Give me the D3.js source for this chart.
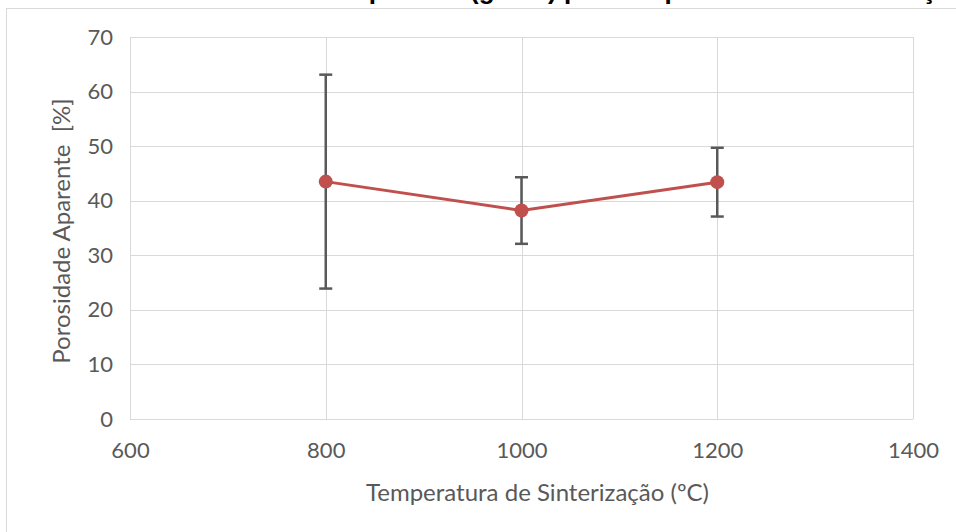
<!DOCTYPE html>
<html>
<head>
<meta charset="utf-8">
<script src="https://cdn.jsdelivr.net/npm/d3@7"></script>
<style>
  body { margin: 0; background: #fff; }
  svg { display: block; }
  text { font-family: Lato, "Open Sans", sans-serif; fill: #595959; }
</style>
</head>
<body>
<svg id="chart" width="956" height="532"></svg>
<script>
// chart data
const temperatures = [800, 1000, 1200];
const porosity = [43.5, 38.2, 43.4];
const porosityErr = [19.6, 6.1, 6.3];
const xTicks = [600, 800, 1000, 1200, 1400];
const yTicks = [0, 10, 20, 30, 40, 50, 60, 70];

const chartTitle = "Gráfico de Densidade Aparente (g/cm³) por Temperatura de Sinterização";
const xTitle = "Temperatura de Sinterização (ºC)";
const yTitle = "Porosidade Aparente  [%]";

const svg = d3.select("#chart");

// plot box
const plot = { left: 130, right: 913, top: 37, bottom: 419 };

const x = d3.scaleLinear().domain([600, 1400]).range([plot.left, plot.right]);
const y = d3.scaleLinear().domain([0, 70]).range([plot.bottom, plot.top]);

// outer chart frame
svg.append("rect")
    .attr("x", 6.5).attr("y", 8.5)
    .attr("width", 960).attr("height", 540)
    .attr("fill", "none")
    .attr("stroke", "#d9d9d9");

// title, mostly cropped off the top edge
const title = svg.append("text")
    .attr("y", -1)
    .style("font-family", "'Liberation Sans', Arial, sans-serif")
    .style("font-weight", "bold")
    .style("font-size", "26px")
    .style("fill", "#000")
    .text(chartTitle);
// put the "(" where it sits in the picture
const idx = chartTitle.indexOf("(");
const off = title.node().getSubStringLength(0, idx);
title.attr("x", 470 - off);

// gridlines
svg.append("g")
    .selectAll("line")
    .data(yTicks)
    .join("line")
    .attr("x1", plot.left).attr("x2", plot.right)
    .attr("y1", d => Math.round(y(d)) + 0.5)
    .attr("y2", d => Math.round(y(d)) + 0.5)
    .attr("stroke", "#d9d9d9");

svg.append("g")
    .selectAll("line")
    .data(xTicks)
    .join("line")
    .attr("x1", d => Math.round(x(d)) + 0.5)
    .attr("x2", d => Math.round(x(d)) + 0.5)
    .attr("y1", plot.top).attr("y2", plot.bottom)
    .attr("stroke", "#d9d9d9");

// axes (labels only, Excel style)
const yAxis = svg.append("g")
    .attr("transform", `translate(${plot.left},0)`)
    .call(d3.axisLeft(y).tickValues(yTicks).tickSize(0).tickPadding(17));
const xAxis = svg.append("g")
    .attr("transform", `translate(0,${plot.bottom})`)
    .call(d3.axisBottom(x).tickValues(xTicks).tickSize(0).tickPadding(23).tickFormat(d3.format("d")));
[yAxis, xAxis].forEach(a => {
    a.select(".domain").remove();
    a.selectAll("text")
        .style("font-size", "22px")
        .style("font-family", "Lato, sans-serif")
        .attr("fill", "#595959");
});

// axis titles
svg.append("text")
    .attr("x", (plot.left + plot.right) / 2 + 16)
    .attr("y", 501)
    .attr("text-anchor", "middle")
    .style("font-size", "24px")
    .text(xTitle);

svg.append("text")
    .attr("transform", `translate(70,231) rotate(-90)`)
    .attr("text-anchor", "middle")
    .style("font-size", "24px")
    .style("white-space", "pre")
    .text(yTitle);

const pts = temperatures.map((t, i) => ({ t: t, v: porosity[i], e: porosityErr[i] }));

// error bars
const err = svg.append("g").attr("stroke", "#595959").attr("stroke-width", 2.5);
err.selectAll(".stem")
    .data(pts)
    .join("line")
    .attr("x1", d => x(d.t)).attr("x2", d => x(d.t))
    .attr("y1", d => y(d.v + d.e)).attr("y2", d => y(d.v - d.e));
err.selectAll(".cap")
    .data(pts.flatMap(d => [d.v + d.e, d.v - d.e].map(v => ({ t: d.t, v: v }))))
    .join("line")
    .attr("x1", d => x(d.t) - 6.5).attr("x2", d => x(d.t) + 6.5)
    .attr("y1", d => y(d.v)).attr("y2", d => y(d.v));

// series line and markers
svg.append("path")
    .datum(pts)
    .attr("fill", "none")
    .attr("stroke", "#c0504d")
    .attr("stroke-width", 3)
    .attr("d", d3.line().x(d => x(d.t)).y(d => y(d.v)));

svg.append("g")
    .selectAll("circle")
    .data(pts)
    .join("circle")
    .attr("cx", d => x(d.t))
    .attr("cy", d => y(d.v))
    .attr("r", 7)
    .attr("fill", "#c0504d");
</script>
</body>
</html>
